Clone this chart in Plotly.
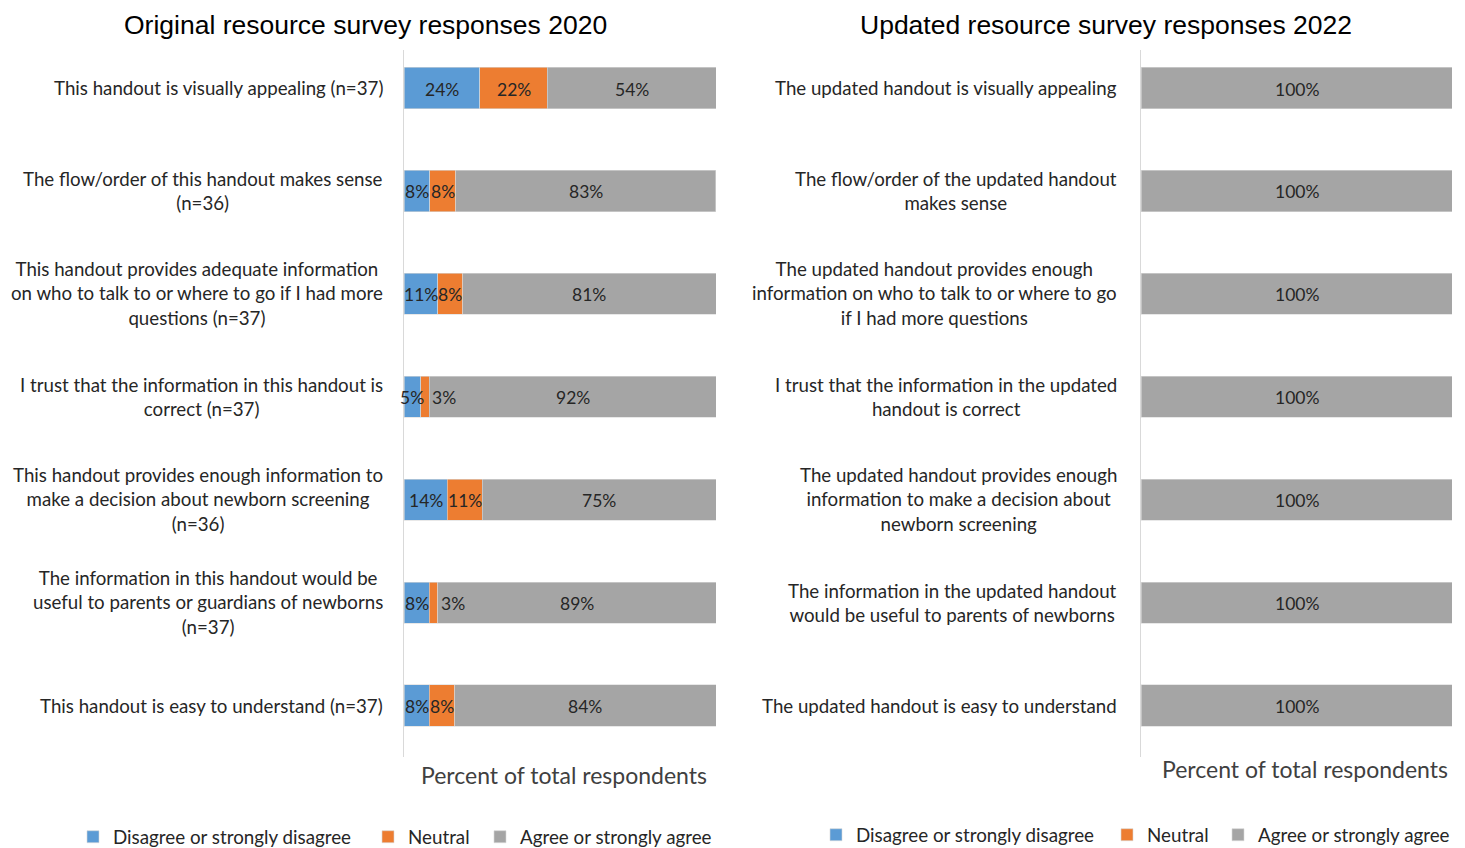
import plotly.graph_objects as go

# ---------------- data ----------------
left_title = "Original resource survey responses 2020"
right_title = "Updated resource survey responses 2022"
axis_title = "Percent of total respondents"

left_categories = [
    "This handout is visually appealing (n=37)",
    "The flow/order of this handout makes sense<br>(n=36)",
    "This handout provides adequate information<br>on who to talk to or where to go if I had more<br>questions (n=37)",
    "I trust that the information in this handout is<br>correct (n=37)",
    "This handout provides enough information to<br>make a decision about newborn screening<br>(n=36)",
    "The information in this handout would be<br>useful to parents or guardians of newborns<br>(n=37)",
    "This handout is easy to understand (n=37)",
]
left_disagree = [24.3, 8.3, 10.8, 5.4, 13.9, 8.1, 8.1]
left_neutral = [21.6, 8.3, 8.1, 2.7, 11.1, 2.7, 8.1]
left_agree = [54.1, 83.3, 81.1, 91.9, 75.0, 89.2, 83.8]

right_categories = [
    "The updated handout is visually appealing",
    "The flow/order of the updated handout<br>makes sense",
    "The updated handout provides enough<br>information on who to talk to or where to go<br>if I had more questions",
    "I trust that the information in the updated<br>handout is correct",
    "The updated handout provides enough<br>information to make a decision about<br>newborn screening",
    "The information in the updated handout<br>would be useful to parents of newborns",
    "The updated handout is easy to understand",
]
right_disagree = [0, 0, 0, 0, 0, 0, 0]
right_neutral = [0, 0, 0, 0, 0, 0, 0]
right_agree = [100, 100, 100, 100, 100, 100, 100]

series_names = ["Disagree or strongly disagree", "Neutral", "Agree or strongly agree"]
colors = ["#5B9BD5", "#ED7D31", "#A5A5A5"]

# ---------------- style ----------------
FONT = "Lato, 'Open Sans', sans-serif"
TXT = "#262626"
OFF = 8                      # page body margin in the browser
W, H = 1465 - OFF, 848 - OFF


def px(x):
    return (x - OFF) / W


def py(y):
    return 1 - (y - OFF) / H


fig = go.Figure()
annotations = []
legend_layout = {}


def add_panel(cats, series, xa, ya, legend_ids, legend_x, legend_y):
    for name, vals, col, lid, lx in zip(series_names, series, colors, legend_ids, legend_x):
        fig.add_trace(go.Bar(
            y=cats, x=vals, name=name, orientation="h",
            marker=dict(color=col, line=dict(color="#D9D9D9", width=0.6)),
            width=0.4, xaxis=xa, yaxis=ya, legend=lid,
            hoverinfo="x+y+name",
        ))
        legend_layout[lid] = dict(
            orientation="h", x=px(lx), xanchor="left", y=py(legend_y), yanchor="middle",
            font=dict(family=FONT, size=18.8, color=TXT), itemwidth=30,
            bgcolor="rgba(0,0,0,0)")
    # data labels
    for i, c in enumerate(cats):
        cum = 0.0
        for vals in series:
            v = vals[i]
            if v > 0:
                small = v < 4
                annotations.append(dict(
                    x=cum + v if small else cum + v / 2, y=c, xref=xa, yref=ya,
                    text=f"{v:.0f}%", showarrow=False,
                    xanchor="left" if small else "center", yanchor="middle",
                    xshift=1 if small else 0, yshift=-1,
                    font=dict(family=FONT, size=17.5, color=TXT),
                ))
            cum += v


add_panel(left_categories, [left_disagree, left_neutral, left_agree], "x", "y",
          ["legend", "legend2", "legend3"], [73, 368, 480], 837)
add_panel(right_categories, [right_disagree, right_neutral, right_agree], "x2", "y2",
          ["legend4", "legend5", "legend6"], [816, 1107, 1218], 835)

ydom = [py(757), py(50)]
common_x = dict(range=[0, 100], showgrid=False, zeroline=False, showticklabels=False,
                showline=False, ticks="", fixedrange=True)
common_y = dict(showgrid=False, zeroline=False, showticklabels=False, ticks="",
                showline=True, linecolor="#D9D9D9", linewidth=1,
                range=[6.5, -0.37], autorange=False, domain=ydom)

fig.update_layout(
    width=W, height=H,
    margin=dict(l=0, r=0, t=0, b=0, autoexpand=False),
    paper_bgcolor="white", plot_bgcolor="white",
    barmode="stack",
    font=dict(family=FONT, size=18, color=TXT),
    xaxis=dict(domain=[px(404), px(716)], anchor="y", **common_x),
    yaxis=dict(anchor="x", **common_y),
    xaxis2=dict(domain=[px(1141), px(1452)], anchor="y2", **common_x),
    yaxis2=dict(anchor="x2", **common_y),
    showlegend=True,
    **legend_layout,
)

# category labels
for cats, xd, ya, shift in [(left_categories, "x domain", "y", -19),
                            (right_categories, "x2 domain", "y2", -22)]:
    for c in cats:
        annotations.append(dict(
            x=0, y=c, xref=xd, yref=ya, text=c, showarrow=False,
            xanchor="right", yanchor="middle", align="center", xshift=shift,
            font=dict(family=FONT, size=18.7, color=TXT),
        ))
# titles
annotations.append(dict(x=px(365), y=1, xref="paper", yref="paper", text=left_title,
                        showarrow=False, xanchor="center", yanchor="top",
                        font=dict(family="Liberation Sans, Arial", size=26.5, color="#000000")))
annotations.append(dict(x=px(1106), y=1, xref="paper", yref="paper", text=right_title,
                        showarrow=False, xanchor="center", yanchor="top",
                        font=dict(family="Liberation Sans, Arial", size=26.5, color="#000000")))
# axis titles
annotations.append(dict(x=px(564), y=py(775), xref="paper", yref="paper", text=axis_title,
                        showarrow=False, xanchor="center", yanchor="middle",
                        font=dict(family=FONT, size=23, color="#404040")))
annotations.append(dict(x=px(1305), y=py(769), xref="paper", yref="paper", text=axis_title,
                        showarrow=False, xanchor="center", yanchor="middle",
                        font=dict(family=FONT, size=23, color="#404040")))
fig.update_layout(annotations=annotations)

fig.write_html("out.html")
